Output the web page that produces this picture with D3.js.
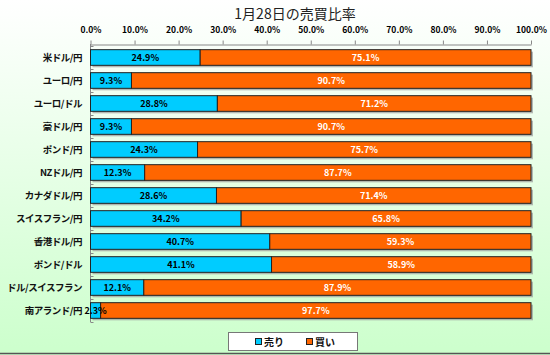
<!DOCTYPE html>
<html><head><meta charset="utf-8">
<script src="https://cdn.jsdelivr.net/npm/d3@7"></script>
<style>html,body{margin:0;padding:0;background:#fff}svg{display:block}</style>
</head><body>
<script>
const categories = ["米ドル/円","ユーロ/円","ユーロ/ドル","豪ドル/円","ポンド/円","NZドル/円","カナダドル/円","スイスフラン/円","香港ドル/円","ポンド/ドル","ドル/スイスフラン","南アランド/円"];
const sellValues = [24.9,9.3,28.8,9.3,24.3,12.3,28.6,34.2,40.7,41.1,12.1,2.3];
const buyValues  = [75.1,90.7,71.2,90.7,75.7,87.7,71.4,65.8,59.3,58.9,87.9,97.7];
const tickValues = [0,10,20,30,40,50,60,70,80,90,100];
const seriesNames = ["売り","買い"];
const colors = ["#00ccff","#ff6600"];
const title = "1月28日の売買比率";

const W=550,H=355;
const font = "'Noto Sans CJK JP', sans-serif";
const svg = d3.select("body").append("svg").attr("width",W).attr("height",H);
const defs = svg.append("defs");
const g0 = defs.append("linearGradient").attr("id","bg").attr("x1",0).attr("y1",0).attr("x2",0).attr("y2",1);
g0.append("stop").attr("offset","0%").attr("stop-color","#ffffff");
g0.append("stop").attr("offset","100%").attr("stop-color","#ccffcc");
svg.append("rect").attr("width",W).attr("height",H).attr("fill","url(#bg)");
svg.append("line").attr("x1",0).attr("x2",W).attr("y1",353.5).attr("y2",353.5).attr("stroke","#555").attr("stroke-width",1.5);

const x = d3.scaleLinear().domain([0,100]).range([90.5,531]);
const y = d3.scaleBand().domain(categories).range([46,322]).paddingInner(0.32).paddingOuter(0.16);

svg.append("text").attr("x",295).attr("y",19).attr("text-anchor","middle")
  .attr("font-family",font).attr("font-size",14).attr("fill","#222").text(title);

// top axis
const xa = svg.append("g").attr("transform","translate(0,44.5)")
  .call(d3.axisTop(x).tickValues(tickValues).tickSize(4).tickSizeOuter(0).tickFormat(d=>d.toFixed(1)+"%"));
xa.select(".domain").attr("stroke","#888");
xa.selectAll(".tick line").attr("stroke","#888");
xa.selectAll("text").attr("font-family",font).attr("font-size",8.5).attr("font-weight","bold").attr("fill","#000").attr("dy","-0.5em");

// left axis
const ya = svg.append("g").attr("transform","translate(90.5,0)");
ya.append("line").attr("y1",44).attr("y2",322).attr("stroke","#888");
const bounds = d3.range(categories.length+1).map(i=>46+ (322-46)/categories.length*i);
ya.selectAll(".tk").data(bounds).join("line").attr("x1",0).attr("x2",3)
  .attr("y1",d=>Math.round(d)+0.5).attr("y2",d=>Math.round(d)+0.5).attr("stroke","#888");
svg.selectAll(".cat").data(categories).join("text")
  .attr("x",82).attr("y",d=>y(d)+y.bandwidth()/2).attr("dy","0.35em").attr("text-anchor","end")
  .attr("font-family",font).attr("font-size",9.5).attr("letter-spacing",-0.5).attr("font-weight","bold").attr("fill","#111").text(d=>d);

const rows = categories.map((c,i)=>({c,s:sellValues[i],b:buyValues[i]}));
svg.selectAll(".sh").data(rows).join("rect")
  .attr("x",x(0)+2).attr("y",d=>y(d.c)+2).attr("width",x(100)-x(0)).attr("height",y.bandwidth())
  .attr("fill","#9a9a9a").attr("opacity",0.7);
svg.selectAll(".bs").data(rows).join("rect")
  .attr("x",x(0)).attr("y",d=>y(d.c)).attr("width",d=>x(d.s)-x(0)).attr("height",y.bandwidth())
  .attr("fill",colors[0]).attr("stroke","#222").attr("stroke-width",1);
svg.selectAll(".bb").data(rows).join("rect")
  .attr("x",d=>x(d.s)).attr("y",d=>y(d.c)).attr("width",d=>x(100)-x(d.s)).attr("height",y.bandwidth())
  .attr("fill",colors[1]).attr("stroke","#222").attr("stroke-width",1);
svg.selectAll(".ls").data(rows).join("text")
  .attr("x",d=>x(d.s/2)).attr("y",d=>y(d.c)+y.bandwidth()/2).attr("dy","0.35em").attr("text-anchor","middle")
  .attr("font-family",font).attr("font-size",9).attr("font-weight","bold").attr("fill","#000").text(d=>d.s.toFixed(1)+"%");
svg.selectAll(".lb").data(rows).join("text")
  .attr("x",d=>x(d.s+d.b/2)).attr("y",d=>y(d.c)+y.bandwidth()/2).attr("dy","0.35em").attr("text-anchor","middle")
  .attr("font-family",font).attr("font-size",9).attr("font-weight","bold").attr("fill","#fff").text(d=>d.b.toFixed(1)+"%");

const lg = svg.append("g");
lg.append("rect").attr("x",228.5).attr("y",332.5).attr("width",129).attr("height",18).attr("fill","#fff").attr("stroke","#777");
seriesNames.forEach((n,i)=>{
  const lx = 255+i*51;
  lg.append("rect").attr("x",lx+0.5).attr("y",338.5).attr("width",6).attr("height",6).attr("fill",colors[i]).attr("stroke","#222");
  lg.append("text").attr("x",lx+9).attr("y",342).attr("dy","0.35em").attr("font-family",font).attr("font-size",10).attr("font-weight","bold").attr("fill","#111").text(n);
});
</script>
</body></html>
